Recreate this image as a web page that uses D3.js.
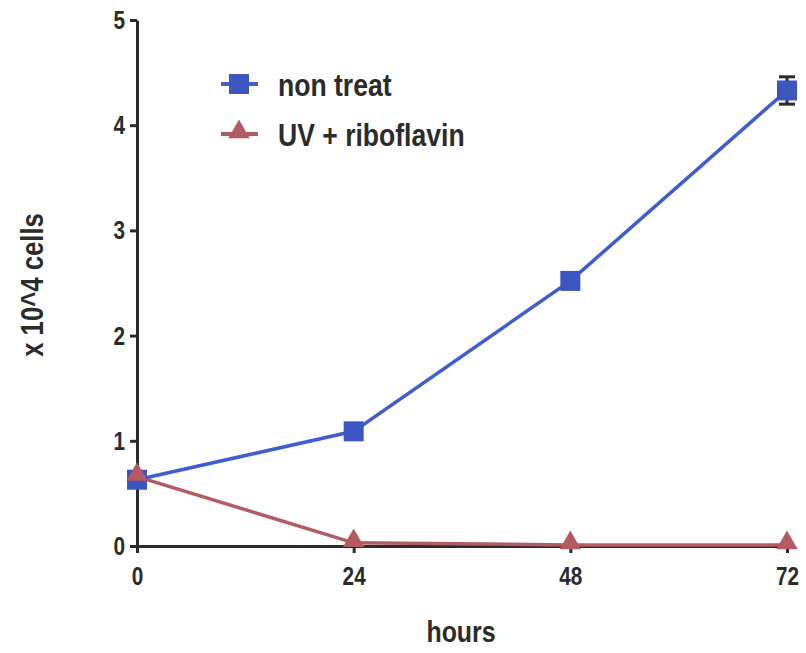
<!DOCTYPE html>
<html>
<head>
<meta charset="utf-8">
<script src="https://cdn.jsdelivr.net/npm/d3@7"></script>
<style>
  body { margin: 0; background: #fff; }
  text { font-family: "Liberation Sans", Arial, sans-serif; font-weight: bold; fill: #2b2b2b; }
</style>
</head>
<body>
<div id="chart"></div>
<script>
// data
var hours = [0, 24, 48, 72];
var nonTreat = [0.63, 1.09, 2.52, 4.33];
var nonTreatErr = [0, 0, 0, 0.13];
var uvRibo = [0.66, 0.03, 0.01, 0.01];
var yTicks = [0, 1, 2, 3, 4, 5];
var seriesNames = ["non treat", "UV + riboflavin"];

var width = 806, height = 653;
var marginLeft = 137, marginRight = 19, marginTop = 20, marginBottom = 107;
var squeeze = 0.83; // narrow look of the original font

var svg = d3.select("#chart").append("svg")
    .attr("width", width)
    .attr("height", height)
    .attr("viewBox", [0, 0, width, height]);

var xScale = d3.scaleLinear([0, 72], [marginLeft, width - marginRight]);
var yScale = d3.scaleLinear([0, 5], [height - marginBottom, marginTop]);

// axes
var xAxis = d3.axisBottom(xScale).tickValues(hours).tickFormat(d3.format("d")).tickSize(7).tickPadding(14).tickSizeOuter(0);
var yAxis = d3.axisLeft(yScale).tickValues(yTicks).tickFormat(d3.format("d")).tickSize(7).tickPadding(7.5).tickSizeOuter(0);

var gx = svg.append("g")
    .attr("transform", "translate(0," + yScale(0) + ")")
    .call(xAxis);
var gy = svg.append("g")
    .attr("transform", "translate(" + marginLeft + ",0)")
    .call(yAxis);

[gx, gy].forEach(function(g) {
    g.selectAll("path, line").attr("stroke", "#2b2b2b").attr("stroke-width", 3);
    g.selectAll("text")
        .style("font-size", "25px")
        .attr("fill", "#2b2b2b")
        .attr("transform", "scale(" + squeeze + ",1)");
});
gy.selectAll("text").attr("dy", "0.34em");

// axis titles
svg.append("text")
    .attr("transform", "translate(461,642) scale(" + squeeze + ",1)")
    .attr("text-anchor", "middle")
    .style("font-size", "30px")
    .text("hours");
svg.append("text")
    .attr("transform", "translate(43,285) rotate(-90) scale(" + squeeze + ",1)")
    .attr("text-anchor", "middle")
    .style("font-size", "31px")
    .text("x 10^4 cells");

var blue = "#3d55c0", blueLine = "#3f5dd0";
var red = "#b35a62";

var line = d3.line().x((d, i) => xScale(hours[i])).y(d => yScale(d));

// UV + riboflavin
svg.append("path").datum(uvRibo)
    .attr("d", line).attr("fill", "none")
    .attr("stroke", red).attr("stroke-width", 3.5);

// non treat
svg.append("path").datum(nonTreat)
    .attr("d", line).attr("fill", "none")
    .attr("stroke", blueLine).attr("stroke-width", 3.5);

// error bars
nonTreat.forEach(function(v, i) {
    if (!nonTreatErr[i]) return;
    var x = xScale(hours[i]);
    var g = svg.append("g").attr("stroke", "#2b2b2b").attr("stroke-width", 3);
    g.append("line").attr("x1", x).attr("x2", x).attr("y1", yScale(v + nonTreatErr[i])).attr("y2", yScale(v - nonTreatErr[i]));
    g.append("line").attr("x1", x - 8).attr("x2", x + 8).attr("y1", yScale(v + nonTreatErr[i])).attr("y2", yScale(v + nonTreatErr[i]));
    g.append("line").attr("x1", x - 8).attr("x2", x + 8).attr("y1", yScale(v - nonTreatErr[i])).attr("y2", yScale(v - nonTreatErr[i]));
});

var sq = 20;
svg.append("g").selectAll("rect").data(nonTreat).join("rect")
    .attr("x", (d, i) => xScale(hours[i]) - sq / 2)
    .attr("y", d => yScale(d) - sq / 2)
    .attr("width", sq).attr("height", sq)
    .attr("fill", blue);

var tri = d3.symbol().type(d3.symbolTriangle).size(200);
svg.append("g").selectAll("path").data(uvRibo).join("path")
    .attr("d", tri)
    .attr("transform", (d, i) => "translate(" + xScale(hours[i]) + "," + (yScale(d) - 2) + ")")
    .attr("fill", red);

// legend
var legend = svg.append("g");
var legY = [84, 134];
legend.append("line").attr("x1", 221).attr("x2", 258).attr("y1", legY[0]).attr("y2", legY[0])
    .attr("stroke", blueLine).attr("stroke-width", 4);
legend.append("rect").attr("x", 229).attr("y", legY[0] - 10).attr("width", 20).attr("height", 20).attr("fill", blue);
legend.append("line").attr("x1", 221).attr("x2", 258).attr("y1", legY[1]).attr("y2", legY[1])
    .attr("stroke", red).attr("stroke-width", 4);
legend.append("path").attr("d", tri).attr("transform", "translate(239," + (legY[1] - 2) + ")").attr("fill", red);

legend.selectAll("text").data(seriesNames).join("text")
    .attr("transform", (d, i) => "translate(278," + (legY[i] + 12) + ") scale(" + squeeze + ",1)")
    .style("font-size", "32px")
    .text(d => d);
</script>
</body>
</html>
